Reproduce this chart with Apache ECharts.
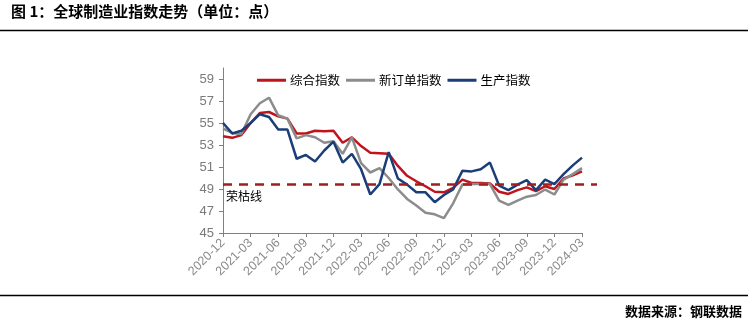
<!DOCTYPE html>
<html>
<head>
<meta charset="utf-8">
<script src="https://cdn.jsdelivr.net/npm/echarts@6/dist/echarts.min.js"></script>
<style>
html,body{margin:0;padding:0;background:#fff;}
#c{width:748px;height:322px;}
</style>
</head>
<body>
<div id="c"></div>
<script>
const categories = ['2020-12','2021-01','2021-02','2021-03','2021-04','2021-05','2021-06','2021-07','2021-08','2021-09','2021-10','2021-11','2021-12',
'2022-01','2022-02','2022-03','2022-04','2022-05','2022-06','2022-07','2022-08','2022-09','2022-10','2022-11','2022-12',
'2023-01','2023-02','2023-03','2023-04','2023-05','2023-06','2023-07','2023-08','2023-09','2023-10','2023-11','2023-12',
'2024-01','2024-02','2024-03'];
const composite = [53.8,53.65,53.9,55.0,55.9,56.0,55.6,55.4,54.05,54.05,54.3,54.25,54.3,53.2,53.7,52.9,52.3,52.25,52.2,51.1,50.2,49.7,49.25,48.75,48.7,49.1,49.85,49.55,49.55,49.5,48.75,48.55,48.9,49.15,48.8,49.25,49.0,49.95,50.25,50.6];
const newOrders = [54.5,54.1,54.0,55.8,56.8,57.3,55.7,55.4,53.6,53.9,53.7,53.2,53.35,52.2,53.7,51.35,50.5,50.9,50.0,48.96,48.1,47.5,46.85,46.7,46.35,47.7,49.4,49.45,49.45,49.45,47.95,47.55,47.95,48.3,48.45,48.95,48.5,49.85,50.35,50.9];
const production = [55.0,54.05,54.3,55.0,55.8,55.55,54.4,54.4,51.75,52.1,51.5,52.5,53.3,51.4,52.2,50.8,48.5,49.45,52.35,49.95,49.4,48.7,48.7,47.8,48.45,48.95,50.65,50.6,50.8,51.4,49.3,48.9,49.4,49.8,48.9,49.85,49.45,50.35,51.15,51.85];
const seriesNames = ['综合指数','新订单指数','生产指数'];
const yTicks = [45,47,49,51,53,55,57,59];
const boomBust = 49.4;
const boomBustLabel = '荣枯线';
const titleText = '图 1：全球制造业指数走势（单位：点）';
const sourceText = '数据来源：钢联数据';

const colors = ['#C0141C','#8C8C8C','#1B3D78'];
const chart = echarts.init(document.getElementById('c'), null, {renderer:'canvas'});
const lineSeries = (name, data, color, extra) => Object.assign({
  name, type:'line', data, symbol:'none', smooth:false,
  lineStyle:{color, width:2.5}, itemStyle:{color}, z:3
}, extra||{});

chart.setOption({
  animation:false,
  grid:{left:223, right:166, top:68, bottom:89},
  legend:{
    left:257, top:74, padding:0, itemWidth:29, itemHeight:3, itemGap:6, icon:'rect',
    data:seriesNames,
    textStyle:{fontFamily:'Noto Sans CJK SC', fontSize:12.5, color:'#000', padding:[0,0,0,-1]}
  },
  xAxis:{
    type:'category', data:categories, boundaryGap:false,
    axisLine:{lineStyle:{color:'#808080', width:1}},
    axisTick:{interval:2, length:4, lineStyle:{color:'#808080'}},
    axisLabel:{interval:2, rotate:45, margin:8, color:'#8a8a8a', fontSize:12.5, fontFamily:'Liberation Sans'}
  },
  yAxis:{
    type:'value', min:45, max:60,
    axisLine:{show:true, lineStyle:{color:'#808080'}},
    axisTick:{show:true, length:4, customValues:yTicks, lineStyle:{color:'#808080'}},
    axisLabel:{customValues:yTicks, color:'#7a7a7a', fontSize:13, margin:9, fontFamily:'Liberation Sans'},
    splitLine:{show:false}
  },
  series:[
    lineSeries(seriesNames[0], composite, colors[0], {
      markLine:{
        silent:true, symbol:'none',
        lineStyle:{color:'#A01E1E', type:[9,7], width:2.5},
        label:{show:true, position:'insideStartBottom', formatter:boomBustLabel, color:'#000', fontSize:12, fontFamily:'Noto Sans CJK SC', distance:[3,6]},
        data:[[{xAxis:0, yAxis:boomBust},{x:597, yAxis:boomBust}]]
      }, z:2
    }),
    lineSeries(seriesNames[1], newOrders, colors[1]),
    lineSeries(seriesNames[2], production, colors[2])
  ],
  graphic:[
    {type:'text', left:11, top:4, style:{text:titleText, font:'bold 15px "Noto Sans CJK SC"', fill:'#000'}},
    {type:'line', shape:{x1:0,y1:30.5,x2:748,y2:30.5}, style:{stroke:'#000', lineWidth:1.5}},
    {type:'line', shape:{x1:0,y1:295.5,x2:748,y2:295.5}, style:{stroke:'#000', lineWidth:1.5}},
    {type:'text', right:6, top:305, style:{text:sourceText, font:'bold 13px "Noto Sans CJK SC"', fill:'#000'}}
  ]
});
</script>
</body>
</html>
